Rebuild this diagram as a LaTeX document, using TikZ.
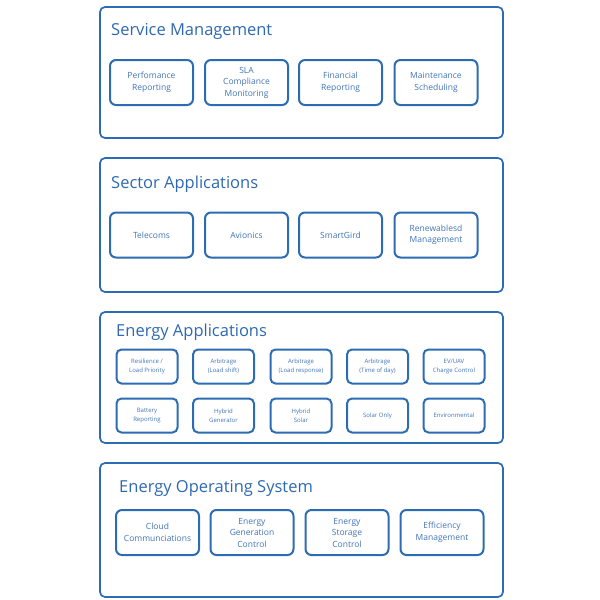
\documentclass[tikz,border=0pt]{standalone}
\usepackage{fontspec}
\setmainfont{Open Sans}
\usetikzlibrary{positioning}
\definecolor{panelblue}{RGB}{44,108,178}
\definecolor{titleblue}{RGB}{46,104,176}
\definecolor{itemblue}{RGB}{64,116,184}

\begin{document}
\begin{tikzpicture}[x=1pt,y=-1pt,
    panel/.style={draw=panelblue,line width=1.7pt,rounded corners=5pt},
    paneltitle/.style={anchor=base west,inner sep=0pt,text=titleblue,font=\fontsize{16.5}{18}\selectfont},
    bigitem/.style={draw=panelblue,line width=2pt,rounded corners=6pt,
        minimum width=83pt,minimum height=45pt,inner sep=1pt,align=center,
        text=itemblue,font=\fontsize{8.5}{11.5}\selectfont},
    smallitem/.style={draw=panelblue,line width=2pt,rounded corners=5pt,
        minimum width=61pt,minimum height=34pt,inner sep=1pt,align=center,
        text=itemblue,font=\fontsize{6}{9}\selectfont}]
    \useasboundingbox (0,0) rectangle (600,600);

    % service management
    \draw[panel] (100,7) rectangle (503,138);
    \node[paneltitle] (svctitle) at (111,35) {Service Management};
    \node[bigitem] (perf) at (151.5,82.5) {Perfomance\\Reporting};
    \node[bigitem] (sla) at (246.5,82.5) {SLA\\Compliance\\Monitoring};
    \node[bigitem] (fin) at (340.5,82.5) {Financial\\Reporting};
    \node[bigitem] (maint) at (436,82.5) {Maintenance\\Scheduling};

    % sector applications
    \draw[panel] (100,158) rectangle (503,292);
    \node[paneltitle] (sectitle) at (111,188) {Sector Applications};
    \node[bigitem] (tele) at (151.5,235) {Telecoms};
    \node[bigitem] (avio) at (246.5,235) {Avionics};
    \node[bigitem] (grid) at (340.5,235) {SmartGird};
    \node[bigitem] (renew) at (436,235) {Renewablesd\\Management};

    % energy applications
    \draw[panel] (100,312) rectangle (503,443);
    \node[paneltitle] (apptitle) at (116,336) {Energy Applications};
    \node[smallitem] (resil) at (147,366.5) {Resilience /\\Load Priority};
    \node[smallitem] (arbshift) at (223.5,366.5) {Arbitrage\\(Load shift)};
    \node[smallitem] (arbresp) at (301,366.5) {Arbitrage\\(Load response)};
    \node[smallitem] (arbtime) at (377.5,366.5) {Arbitrage\\(Time of day)};
    \node[smallitem] (evuav) at (454,366.5) {EV/UAV\\Charge Control};
    \node[smallitem] (batt) at (147,415.5) {Battery\\Reporting};
    \node[smallitem] (hybgen) at (223.5,415.5) {Hybrid\\Generator};
    \node[smallitem] (hybsol) at (301,415.5) {Hybrid\\Solar};
    \node[smallitem] (solar) at (377.5,415.5) {Solar Only};
    \node[smallitem] (env) at (454,415.5) {Environmental};

    % energy operating system
    \draw[panel] (100,463) rectangle (503,597);
    \node[paneltitle] (ostitle) at (119,492) {Energy Operating System};
    \node[bigitem] (cloud) at (157.5,532.5) {Cloud\\Communciations};
    \node[bigitem] (gen) at (252,532.5) {Energy\\Generation\\Control};
    \node[bigitem] (stor) at (347,532.5) {Energy\\Storage\\Control};
    \node[bigitem] (eff) at (442,532.5) {Efficiency\\Management};
\end{tikzpicture}
\end{document}
